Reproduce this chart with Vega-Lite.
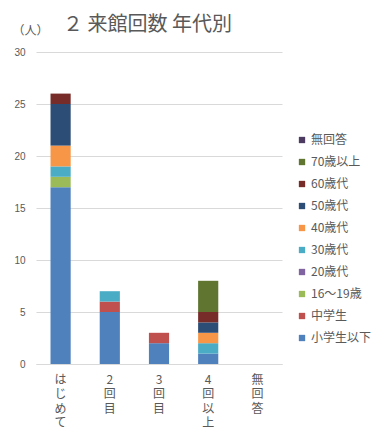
{
  "$schema": "https://vega.github.io/schema/vega-lite/v6.json",
  "width": 246,
  "height": 312,
  "autosize": "none",
  "padding": {"left": 36, "top": 52, "right": 99, "bottom": 78},
  "background": "white",
  "title": {
    "text": "２ 来館回数 年代別",
    "anchor": "start",
    "frame": "group",
    "dx": 27,
    "offset": -11,
    "font": "Noto Sans CJK JP",
    "fontSize": 20,
    "fontWeight": "normal",
    "color": "#595959"
  },
  "data": {
    "values": [
      {"visit": "はじめて", "age": "小学生以下", "k": 1, "count": 17},
      {"visit": "はじめて", "age": "16〜19歳", "k": 3, "count": 1},
      {"visit": "はじめて", "age": "30歳代", "k": 5, "count": 1},
      {"visit": "はじめて", "age": "40歳代", "k": 6, "count": 2},
      {"visit": "はじめて", "age": "50歳代", "k": 7, "count": 4},
      {"visit": "はじめて", "age": "60歳代", "k": 8, "count": 1},
      {"visit": "2回目", "age": "小学生以下", "k": 1, "count": 5},
      {"visit": "2回目", "age": "中学生", "k": 2, "count": 1},
      {"visit": "2回目", "age": "30歳代", "k": 5, "count": 1},
      {"visit": "3回目", "age": "小学生以下", "k": 1, "count": 2},
      {"visit": "3回目", "age": "中学生", "k": 2, "count": 1},
      {"visit": "4回以上", "age": "小学生以下", "k": 1, "count": 1},
      {"visit": "4回以上", "age": "30歳代", "k": 5, "count": 1},
      {"visit": "4回以上", "age": "40歳代", "k": 6, "count": 1},
      {"visit": "4回以上", "age": "50歳代", "k": 7, "count": 1},
      {"visit": "4回以上", "age": "60歳代", "k": 8, "count": 1},
      {"visit": "4回以上", "age": "70歳以上", "k": 9, "count": 3}
    ]
  },
  "mark": {"type": "bar"},
  "encoding": {
    "x": {
      "field": "visit",
      "type": "nominal",
      "scale": {"domain": ["はじめて", "2回目", "3回目", "4回以上", "無回答"], "paddingInner": 0.59, "paddingOuter": 0.295},
      "axis": {
        "title": null,
        "labelAngle": 0,
        "labelExpr": "split(datum.label, '')",
        "labelFont": "Noto Sans CJK JP",
        "labelFontSize": 12,
        "labelLineHeight": 14.5,
        "labelColor": "#595959",
        "labelPadding": 10,
        "labelBaseline": "top",
        "ticks": false,
        "domainColor": "#D9D9D9",
        "grid": false
      }
    },
    "y": {
      "field": "count",
      "type": "quantitative",
      "aggregate": "sum",
      "stack": "zero",
      "scale": {"domain": [0, 30], "nice": false},
      "axis": {
        "title": "（人）",
        "titleAngle": 0,
        "titleX": -24,
        "titleY": -22,
        "titleAlign": "left",
        "titleBaseline": "middle",
        "titleFont": "Noto Sans CJK JP",
        "titleFontSize": 12,
        "titleFontWeight": "normal",
        "titleColor": "#595959",
        "values": [0, 5, 10, 15, 20, 25, 30],
        "labelFont": "Liberation Sans",
        "labelFontSize": 10,
        "labelColor": "#595959",
        "labelPadding": 11,
        "ticks": false,
        "domain": false,
        "gridColor": "#D9D9D9"
      }
    },
    "color": {
      "field": "age",
      "type": "nominal",
      "scale": {
        "domain": ["無回答", "70歳以上", "60歳代", "50歳代", "40歳代", "30歳代", "20歳代", "16〜19歳", "中学生", "小学生以下"],
        "range": ["#4D3B62", "#5F7530", "#772C2A", "#2C4D75", "#F79646", "#4BACC6", "#8064A2", "#9BBB59", "#C0504D", "#4F81BD"]
      },
      "legend": {
        "title": null,
        "orient": "none",
        "legendX": 260,
        "legendY": 82,
        "symbolType": "square",
        "symbolSize": 40,
        "symbolStrokeWidth": 0,
        "labelFont": "Noto Sans CJK JP",
        "labelFontSize": 12,
        "labelColor": "#595959",
        "labelOffset": 3,
        "rowPadding": 10
      }
    },
    "order": {"field": "k", "type": "quantitative", "sort": "ascending"}
  },
  "config": {
    "view": {"stroke": null}
  }
}
